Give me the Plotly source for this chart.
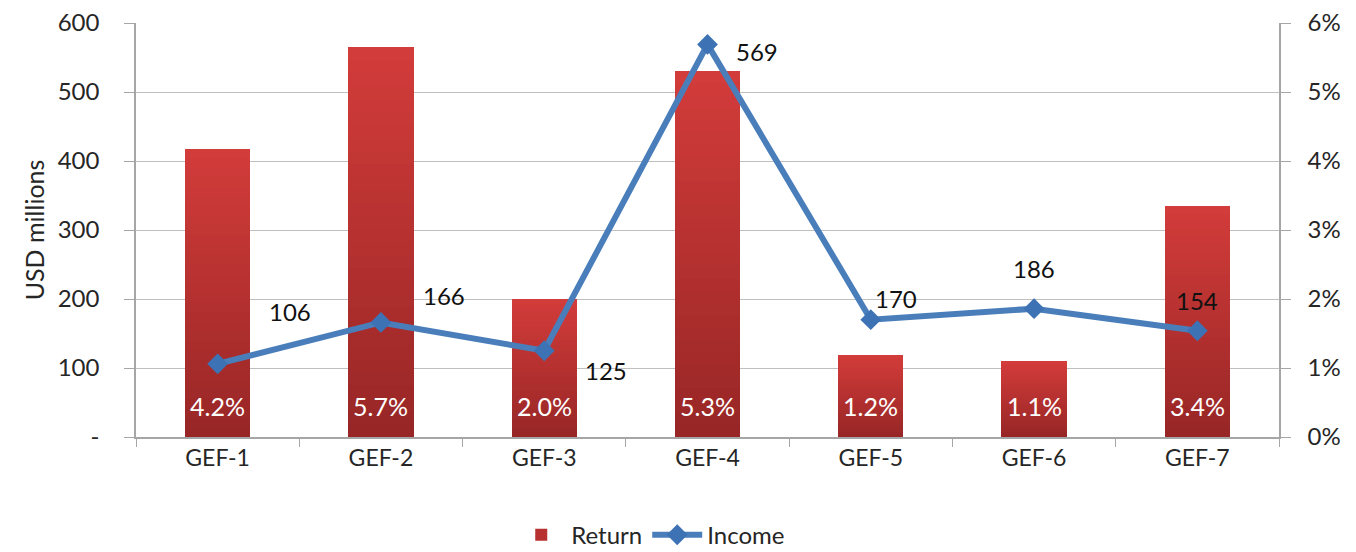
import plotly.graph_objects as go

categories = ["GEF-1", "GEF-2", "GEF-3", "GEF-4", "GEF-5", "GEF-6", "GEF-7"]
return_pct = [4.18, 5.65, 2.00, 5.30, 1.19, 1.10, 3.35]
return_labels = ["4.2%", "5.7%", "2.0%", "5.3%", "1.2%", "1.1%", "3.4%"]
income = [106, 166, 125, 569, 170, 186, 154]
income_labels = ["106", "166", "125", "569", "170", "186", "154"]

left_ticks = [0, 100, 200, 300, 400, 500, 600]
left_ticktext = ["-", "100", "200", "300", "400", "500", "600"]
right_ticks = [0, 1, 2, 3, 4, 5, 6]
right_ticktext = ["0%", "1%", "2%", "3%", "4%", "5%", "6%"]

# label offsets in pixels (style)
label_shift = [(72, 52), (63, 27), (62, -20), (49, -7), (25, 21), (0, 40), (0, 30)]

FONT = "Lato, 'Open Sans', sans-serif"
TXT = "#262626"
GRID = "#bfbfbf"

fig = go.Figure()

# Gradient bars: each bar split into stacked slices, dark at bottom, light at top
N = 30
dark = (152, 38, 38)
light = (210, 60, 58)
for i in range(N):
    t = i / (N - 1)
    c = tuple(round(dark[k] + (light[k] - dark[k]) * t) for k in range(3))
    fig.add_trace(go.Bar(
        x=categories,
        y=[v / N for v in return_pct],
        yaxis="y",
        marker=dict(color="rgb(%d,%d,%d)" % c, line=dict(width=0)),
        width=0.4,
        name="Return",
        legendgroup="ret",
        showlegend=(i == N // 2),
        hoverinfo="skip",
    ))

fig.add_trace(go.Scatter(
    x=categories, y=income, yaxis="y2", mode="lines+markers",
    name="Income",
    line=dict(color="#4a7ebb", width=6),
    marker=dict(symbol="diamond", size=16, color="#3d72b4"),
))

annotations = []
for c, v, lab, (dx, dy) in zip(categories, income, income_labels, label_shift):
    annotations.append(dict(x=c, y=v, xref="x", yref="y2", text=lab, showarrow=False,
                            xshift=dx, yshift=dy, font=dict(size=24, color="#111", family=FONT)))
for c, lab in zip(categories, return_labels):
    annotations.append(dict(x=c, y=0, xref="x", yref="y", text=lab, showarrow=False,
                            yanchor="bottom", yshift=14,
                            font=dict(size=25, color="white", family=FONT)))

fig.update_layout(
    width=1356, height=552,
    margin=dict(l=128, r=85, t=15, b=123, autoexpand=False),
    paper_bgcolor="white", plot_bgcolor="white",
    barmode="stack", bargap=0.6,
    font=dict(family=FONT, size=22, color=TXT),
    annotations=annotations,
    showlegend=True,
    legend=dict(orientation="h", x=0.474, xanchor="center", xref="container",
                yref="container", y=0.045, yanchor="middle",
                font=dict(size=24, color=TXT), traceorder="normal", itemwidth=50),
    xaxis=dict(
        showgrid=False, showline=True, linecolor="#a6a6a6", linewidth=1.5,
        ticks="outside", tickson="boundaries", ticklen=8, tickcolor="#a6a6a6",
        tickfont=dict(size=23, color=TXT),
    ),
    yaxis=dict(
        range=[0, 6], tickvals=right_ticks, ticktext=right_ticktext,
        side="right", showgrid=True, gridcolor=GRID, gridwidth=1,
        showline=True, linecolor="#a6a6a6", linewidth=1.5,
        ticks="outside", ticklen=10, tickcolor="#a6a6a6",
        tickfont=dict(size=24, color=TXT), zeroline=False,
        ticklabelstandoff=12, ticklabeloverflow="allow",
    ),
    yaxis2=dict(
        range=[0, 600], tickvals=left_ticks, ticktext=left_ticktext,
        overlaying="y", side="left", showgrid=False,
        showline=True, linecolor="#a6a6a6", linewidth=1.5,
        ticks="outside", ticklen=10, tickcolor="#a6a6a6",
        tickfont=dict(size=24, color=TXT), zeroline=False,
        ticklabelstandoff=20, ticklabeloverflow="allow",
        title=dict(text="USD millions", font=dict(size=25, color=TXT), standoff=6),
    ),
)

fig.write_html("out.html")
